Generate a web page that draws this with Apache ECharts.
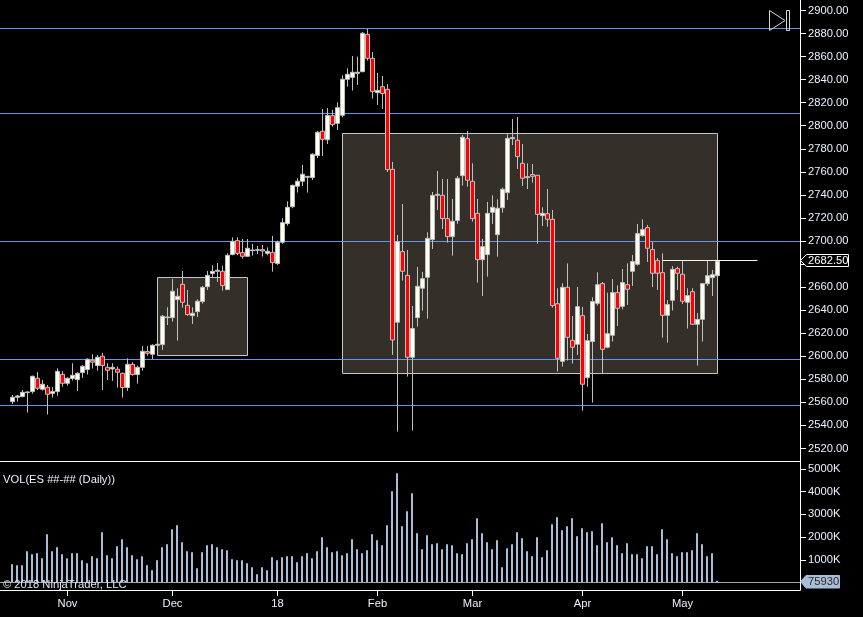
<!DOCTYPE html>
<html><head><meta charset="utf-8">
<style>html,body{margin:0;padding:0;background:#000}#c{width:863px;height:617px}</style>
<script src="https://cdn.jsdelivr.net/npm/echarts@6/dist/echarts.min.js"></script>
</head><body><div id="c"></div>
<script>
const opens=[2560.6,2564.4,2565,2568.4,2569.3,2580.9,2571.3,2573.1,2567.6,2569.3,
2584.3,2576.5,2580.6,2579.7,2585.8,2588.4,2596.5,2591.9,2600,2590.4,
2589,2588.7,2585.2,2572.8,2593,2584.1,2590.4,2604,2601.7,2609.5,
2610.1,2633.5,2633.5,2649.1,2662.4,2644.2,2635.2,2638.7,2647.4,2660.4,
2671.7,2673.7,2673.7,2657.8,2688.2,2700.3,2689.9,2686.7,2691.6,2691.9,
2692.5,2689.3,2690.2,2680.4,2698.9,2715.1,2729.8,2747.5,2751.8,2755.3,
2755,2774.1,2795.2,2787.9,2808.8,2802.1,2809.1,2840.3,2842,2845.5,
2846.9,2879.3,2858.5,2828.7,2833.9,2831.6,2762.2,2629.5,2690.8,2670.2,
2599.1,2633.5,2659,2668.5,2701.2,2739.6,2739.6,2719.4,2703.8,2717.7,
2756.7,2788.8,2751.8,2724,2683.8,2688.2,2724.9,2705.5,2728.9,2742,
2788.8,2787.4,2767.4,2755,2757.6,2757,2722,2723.7,2718.8,2645.6,
2595.6,2659.8,2613.8,2610.4,2635.2,2581.4,2612.7,2645.9,2663,2607.8,
2618.2,2655.2,2643.3,2662.1,2673.7,2679.8,2704.6,2711.6,2692.5,2683,
2672.5,2635.5,2648.5,2676,2671.1,2646.8,2656,2627.7,2632,2663,
2668.2,2669.9];
const closes=[2564.4,2565.5,2568.7,2569,2582.6,2572.2,2575.7,2567,2569.3,2586.9,
2576.5,2580.9,2583.5,2585.2,2591.3,2597.4,2594.8,2599.1,2591.9,2587.8,
2590.4,2586.1,2572.8,2593,2584.1,2590.4,2604.3,2602.6,2609.5,2610.4,
2634.7,2634.1,2656.4,2652,2646.8,2636.1,2637.3,2647.7,2659.8,2670.2,
2673.7,2674.6,2661.3,2687.6,2699.7,2689.3,2686.7,2693.7,2692.2,2692.5,
2691.3,2691.1,2681.2,2698.9,2715.9,2729.2,2748.3,2751.8,2757.9,2756.1,
2775.2,2794.3,2788.2,2808.8,2801,2815.7,2840.3,2844.6,2846.4,2846.4,
2880.2,2858.5,2829.6,2830.7,2827.9,2761.9,2614.1,2699.4,2673.7,2599.1,
2624,2660.7,2667.3,2702.3,2739.6,2740.5,2719.4,2703.8,2717.1,2754.4,
2790,2752.7,2719.4,2683.8,2695.1,2724,2729.2,2728.4,2744.9,2789.1,
2789.7,2773.2,2754.4,2755.8,2756.1,2723.1,2724,2718.8,2643.9,2598.2,
2659.8,2616.4,2607.8,2643,2575.7,2613.5,2647.4,2662.1,2606,2619.6,
2655.2,2641.6,2663.9,2658.1,2682.1,2706.4,2709.9,2693.7,2672,2672,
2635.5,2644.8,2675.4,2672,2647.7,2652.6,2627.7,2632,2663,2669.9,
2670.8,2682.5];
const lows=[2558.6,2560.6,2564.4,2551.1,2567.6,2570.75,2570.2,2549.4,2564.1,2565.8,
2573.6,2574.5,2578.9,2569.9,2581.2,2584.1,2589.3,2587.5,2570.75,2579.4,
2578.6,2572.8,2564.1,2569.9,2583.2,2576.25,2587.5,2600.5,2597.6,2608.9,
2605.5,2627.1,2630,2613.6,2642.2,2635,2628,2634.1,2645.7,2657.5,
2668.5,2664.5,2656.9,2657.5,2687.6,2687.6,2684.7,2686.1,2687.3,2688.7,
2686.4,2687.6,2673.4,2679.2,2697.5,2713.3,2728.4,2742,2747.7,2742,
2752.9,2772,2773.8,2784.2,2799.2,2796.3,2807.3,2833.9,2830.5,2835.4,
2846.4,2856.5,2823.5,2818,2814.5,2759.9,2601.1,2534.6,2665.6,2582.3,
2535.5,2625.7,2639.6,2632.6,2693.1,2726.9,2710.4,2698.6,2687.3,2714.8,
2748,2747.2,2716.8,2663.9,2652.3,2669.1,2714.8,2686.4,2724.6,2735.6,
2783.3,2762.5,2747.7,2745.1,2750.6,2697.7,2713,2712.4,2642.2,2586.7,
2591,2596.2,2593.6,2601.1,2552.8,2573.6,2559.8,2643.9,2585.2,2606.9,
2612.7,2626.3,2640.7,2644.5,2661,2678.6,2703.8,2681.8,2660.1,2657.5,
2616.1,2611.8,2639.6,2657.5,2645.4,2624,2627.1,2591.9,2612.7,2661,
2652.3,2666.2];
const highs=[2566.4,2566.4,2570.75,2569.6,2583.2,2586.4,2579.4,2575.1,2573.1,2589.5,
2587.2,2581.7,2593.9,2586.1,2592.2,2598.2,2601.7,2601.1,2602.9,2593.9,
2593.9,2591,2585.8,2598.2,2594.8,2591.9,2608.9,2608.9,2610.4,2611.2,
2635.8,2642.5,2667,2659,2674,2657.5,2642.5,2649.4,2661,2674,
2678.9,2680.9,2678.6,2689.3,2703.2,2703.2,2701.8,2701.8,2697.4,2695.7,
2696.6,2694.5,2704.4,2700.3,2719.7,2734.4,2748.9,2754.4,2766,2756.1,
2776.1,2795.5,2814.5,2815.4,2813.7,2820.3,2843.8,2849.8,2860.5,2860,
2881.4,2884,2864,2845.8,2843.2,2836.2,2768.6,2705.2,2732.1,2692.2,
2643.6,2677.5,2673.1,2707.5,2742.5,2760.8,2753.8,2753.8,2736.5,2756.4,
2792,2795.5,2767.4,2736.5,2701.8,2733.9,2739.6,2736.2,2746.3,2792.6,
2805.9,2807.6,2784.2,2767.4,2766.8,2757.3,2729.2,2745.1,2726.9,2659,
2663.3,2680.6,2634.9,2660.1,2642.8,2619.3,2651.1,2672.8,2664.4,2655.2,
2667,2661.5,2675.7,2680.6,2687.9,2714.8,2718.8,2713.9,2699.1,2685.3,
2689.3,2648.8,2678.3,2677.7,2683,2659,2659,2637.5,2663.6,2683,
2674.9,2685];
const volumesK=[807,763,763,1380,1248,1292,1072,2129,1380,1556,
1248,1072,1292,1292,984,851,1160,1072,2217,1204,
1072,1600,1908,1556,1204,1028,1160,763,543,984,
1556,1688,2349,2525,1776,1380,1336,631,1336,1644,
1688,1556,1468,1424,1028,984,984,851,675,367,
675,543,1116,984,1116,1160,1160,895,1160,1292,
1072,1380,1996,1556,1336,1380,1204,1292,1908,1468,
1292,1424,2129,1864,1644,2525,4022,4815,2481,3142,
3934,2173,1468,2085,1688,1732,1468,1688,1644,1292,
1248,1732,1908,2833,2173,1776,1468,1864,675,1512,
1688,2217,1952,1380,1160,1996,1116,1424,2569,2877,
2305,2481,2833,2041,2393,2217,2261,1644,2613,1776,
1996,1644,1292,1732,1248,1248,1072,1600,1600,1248,
2349,1908,1292,1160,1336,1336,1424,2173,1688,1160,
1292,75.93];
const levels=[2884.37,2810.62,2699.56,2597.17,2557.26];
const priceTicks=[2520,2540,2560,2580,2600,2620,2640,2660,2680,2700,2720,2740,2760,2780,2800,2820,2840,2860,2880,2900];
const volTicks=[1000,2000,3000,4000,5000];
const monthLabels={13:'Nov',34:'Dec',55:'18',75:'Feb',94:'Mar',116:'Apr',136:'May'};
const leadingSlots=2, totalSlots=160;
const lastPriceLabel='2682.50', lastPriceLevel=2683.07, lastVolumeLabel='75930';
// [first slot, last slot, top price, bottom price]
const boxes=[[31,49,2668.3,2600.63],[68,143,2793.26,2585.01]];
const priceLineSlots=[132,151];

const categories=Array.from({length:totalSlots},(_,j)=>monthLabels[j]||'');
const isLabelled=(j,v)=>v!=='';
const pad=Array(leadingSlots).fill('-');
const candles=pad.concat(opens.map((o,i)=>[o,closes[i],lows[i],highs[i]]));
const vols=pad.concat(volumesK);
const FONT='"Liberation Sans",Arial,sans-serif';
const GREY='#c0c0c0', LINE='#ffffff', LEVEL='#6495ed';

const chart=echarts.init(document.getElementById('c'),null,{renderer:'canvas'});
chart.setOption({
  animation:false,backgroundColor:'#000',
  grid:[{left:0,top:0,width:800,height:461},{left:0,top:461,width:800,height:129}],
  xAxis:[
    {type:'category',gridIndex:0,data:categories,boundaryGap:true,position:'bottom',
     axisLine:{onZero:false,lineStyle:{color:LINE,width:1}},axisTick:{show:false},axisLabel:{show:false},splitLine:{show:false}},
    {type:'category',gridIndex:1,data:categories,boundaryGap:true,position:'bottom',
     axisLine:{onZero:false,lineStyle:{color:LINE,width:1}},
     axisTick:{show:true,length:6,interval:isLabelled,alignWithLabel:true,lineStyle:{color:LINE}},
     axisLabel:{show:true,interval:isLabelled,color:'#eaf2ff',fontFamily:FONT,fontSize:11.2,margin:8},splitLine:{show:false}}
  ],
  yAxis:[
    {type:'value',gridIndex:0,position:'right',min:2509.1,max:2909.1,scale:true,
     axisLine:{show:true,onZero:false,lineStyle:{color:LINE}},
     axisTick:{show:true,length:6,customValues:priceTicks,lineStyle:{color:LINE}},
     axisLabel:{show:true,customValues:priceTicks,color:'#eaf2ff',fontFamily:FONT,fontSize:11.2,margin:8,padding:[2,0,0,0],
       formatter:v=>v.toFixed(2)},splitLine:{show:false}},
    {type:'value',gridIndex:1,position:'right',min:-330,max:5352,
     axisLine:{show:true,onZero:false,lineStyle:{color:LINE}},
     axisTick:{show:true,length:6,customValues:volTicks,lineStyle:{color:LINE}},
     axisLabel:{show:true,customValues:volTicks,color:'#eaf2ff',fontFamily:FONT,fontSize:11.2,margin:8,padding:[3,0,0,0],
       formatter:v=>v+'K'},splitLine:{show:false}}
  ],
  series:[
    {type:'candlestick',name:'ES',xAxisIndex:0,yAxisIndex:0,z:3,data:candles,barWidth:4,clip:false,
     itemStyle:{color:'#fffff2',color0:'#ff0000',borderColor:GREY,borderColor0:GREY,borderWidth:1},
     markArea:{silent:true,z:1,itemStyle:{color:'#352f2a',borderColor:'#c4c8cc',borderWidth:1},
       data:boxes.map(b=>[{coord:[b[0],b[2]]},{coord:[b[1],b[3]]}])},
     markLine:{silent:true,z:2,symbol:'none',label:{show:false},lineStyle:{color:LEVEL,width:1,type:'solid'},
       data:levels.map(v=>({yAxis:v}))}
    },
    {type:'line',name:'last',xAxisIndex:0,yAxisIndex:0,z:4,data:[],showSymbol:false,
     markLine:{silent:true,z:4,symbol:'none',label:{show:false},lineStyle:{color:'#fff8dc',width:1,type:'solid'},
       data:[[{coord:[priceLineSlots[0],lastPriceLevel]},{coord:[priceLineSlots[1],lastPriceLevel]}]]}
    },
    {type:'bar',name:'VOL',xAxisIndex:1,yAxisIndex:1,data:vols,barWidth:2,barGap:'-50%',z:2,
     itemStyle:{color:'#a9bcd8'},
     markLine:{silent:true,z:3,symbol:'none',label:{show:false},lineStyle:{color:'#a8a8a8',width:1,type:'solid'},
       data:[{yAxis:0}]}
    },
    {type:'bar',name:'spacer',xAxisIndex:1,yAxisIndex:1,data:[],barWidth:2,barGap:'-50%'}
  ]
});
const yP=Math.floor(chart.convertToPixel({yAxisIndex:0},lastPriceLevel))+0.5;
const yV=Math.round(chart.convertToPixel({yAxisIndex:1},volumesK[volumesK.length-1]))+0.5;
chart.setOption({graphic:[
  {type:'polygon',z:50,shape:{points:[[800.5,yP],[806.5,yP-6],[848.5,yP-6],[848.5,yP+6],[806.5,yP+6]]},style:{fill:'#000',stroke:'#fff',lineWidth:1}},
  {type:'text',z:51,x:808,y:yP+0.5,style:{text:lastPriceLabel,fill:'#fff',font:'11.2px '+FONT,textVerticalAlign:'middle'}},
  {type:'polygon',z:50,shape:{points:[[800.5,yV],[806,yV-6],[839.5,yV-6],[839.5,yV+6.5],[806,yV+6.5]]},style:{fill:'#a9bcd8',stroke:'#a9bcd8',lineWidth:1}},
  {type:'text',z:51,x:808,y:yV+0.5,style:{text:lastVolumeLabel,fill:'#2a2a2a',font:'11.2px '+FONT,textVerticalAlign:'middle'}},
  {type:'polygon',z:50,shape:{points:[[769.5,10.5],[785,20.5],[769.5,30.5]]},style:{fill:'none',stroke:'#d8d8d8',lineWidth:1}},
  {type:'rect',z:50,shape:{x:786.5,y:10.5,width:3,height:20},style:{fill:'none',stroke:'#d8d8d8',lineWidth:1}},
  {type:'text',z:51,x:3,y:479.5,style:{text:'VOL(ES ##-## (Daily))',fill:'#eaf2ff',font:'11.2px '+FONT,textVerticalAlign:'middle'}},
  {type:'text',z:51,x:3,y:584.5,style:{text:'\u00a9 2018 NinjaTrader, LLC',fill:'#dfe6f0',font:'11.2px '+FONT,textVerticalAlign:'middle'}}
]});
</script></body></html>
